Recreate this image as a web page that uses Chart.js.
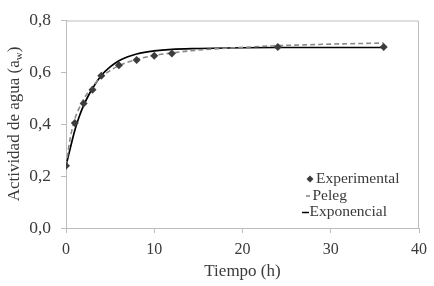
<!DOCTYPE html>
<html>
<head>
<meta charset="utf-8">
<script src="https://cdn.jsdelivr.net/npm/chart.js@4/dist/chart.umd.min.js"></script>
<style>
  html, body { margin: 0; padding: 0; background: #fff; }
  #wrap { width: 434px; height: 286px; }
</style>
</head>
<body>
<div id="wrap"><canvas id="chart" width="434" height="286"></canvas></div>
<script>
// Experimental points
var expTime = [0, 1, 2, 3, 4, 6, 8, 10, 12, 24, 36];
var expAw = [0.24, 0.405, 0.48, 0.533, 0.587, 0.627, 0.648, 0.664, 0.673, 0.698, 0.698];

// Peleg model curve
var pelegTime = [0, 0.5, 1, 1.5, 2, 3, 4, 5, 6, 8, 10, 12, 15, 18, 21, 24, 27, 30, 33, 36];
var pelegAw = [0.24, 0.35, 0.42, 0.463, 0.497, 0.545, 0.582, 0.607, 0.626, 0.65, 0.665, 0.675, 0.686, 0.693, 0.698, 0.703, 0.706, 0.709, 0.711, 0.713];

// Exponential model curve
var expoTime = [0, 0.5, 1, 1.5, 2, 2.5, 3, 4, 5, 6, 7, 8, 10, 12, 15, 20, 24, 30, 36];
var expoAw = [0.24, 0.31, 0.377, 0.43, 0.473, 0.508, 0.538, 0.588, 0.621, 0.645, 0.66, 0.671, 0.683, 0.689, 0.692, 0.695, 0.696, 0.696, 0.696];

var xTicks = [0, 10, 20, 30, 40];
var yTicks = [0, 0.2, 0.4, 0.6, 0.8];

var FONT = "'Liberation Serif', 'Times New Roman', serif";
var TEXT = '#3a3a3a';
var AXIS = '#bcbcbc';

function pts(xs, ys) {
    return xs.map(function(x, i) { return { x: x, y: ys[i] }; });
}

// frame, y title with subscript and the legend box
var extras = {
    id: 'extras',
    beforeDatasetsDraw: function(chart) {
        var a = chart.chartArea, ctx = chart.ctx;
        ctx.save();
        ctx.strokeStyle = AXIS;
        ctx.lineWidth = 1;
        ctx.beginPath();
        ctx.moveTo(a.left, a.top + 0.5);
        ctx.lineTo(a.right - 0.5, a.top + 0.5);
        ctx.lineTo(a.right - 0.5, a.bottom);
        ctx.stroke();
        ctx.restore();
    },
    afterDraw: function(chart) {
        var ctx = chart.ctx;
        ctx.save();
        // y axis title
        ctx.translate(15, 124);
        ctx.rotate(-Math.PI / 2);
        ctx.fillStyle = TEXT;
        ctx.textBaseline = 'middle';
        var main = 'Actividad de agua (a';
        ctx.font = '17px ' + FONT;
        var w1 = ctx.measureText(main).width;
        ctx.font = '11px ' + FONT;
        var w2 = ctx.measureText('w').width;
        ctx.font = '17px ' + FONT;
        var w3 = ctx.measureText(')').width;
        var x0 = -(w1 + w2 + w3) / 2;
        ctx.textAlign = 'left';
        ctx.fillText(main, x0, 0);
        ctx.font = '11px ' + FONT;
        ctx.fillText('w', x0 + w1, 4);
        ctx.font = '17px ' + FONT;
        ctx.fillText(')', x0 + w1 + w2, 0);
        ctx.restore();

        // legend
        ctx.save();
        ctx.font = '15.5px ' + FONT;
        ctx.textBaseline = 'middle';
        ctx.textAlign = 'left';
        // Experimental
        ctx.fillStyle = '#3c3c3c';
        ctx.beginPath();
        ctx.moveTo(310, 175.5); ctx.lineTo(313.5, 179); ctx.lineTo(310, 182.5); ctx.lineTo(306.5, 179);
        ctx.closePath(); ctx.fill();
        ctx.fillStyle = TEXT;
        ctx.fillText('Experimental', 316, 179);
        // Peleg
        ctx.strokeStyle = '#808080';
        ctx.lineWidth = 1.5;
        ctx.beginPath(); ctx.moveTo(306, 196); ctx.lineTo(310, 196); ctx.stroke();
        ctx.fillText('Peleg', 312.5, 196);
        // Exponencial
        ctx.strokeStyle = '#000';
        ctx.beginPath(); ctx.moveTo(302, 212.5); ctx.lineTo(309, 212.5); ctx.stroke();
        ctx.fillText('Exponencial', 309.5, 212);
        ctx.restore();
    }
};

var ctx = document.getElementById('chart').getContext('2d');
var chart = new Chart(ctx, {
    type: 'scatter',
    data: {
        datasets: [
            {
                label: 'Experimental',
                data: pts(expTime, expAw),
                pointStyle: 'rectRot',
                pointRadius: 4,
                backgroundColor: '#3c3c3c',
                borderColor: '#3c3c3c',
                borderWidth: 0,
                showLine: false,
                order: 0
            },
            {
                label: 'Peleg',
                type: 'line',
                data: pts(pelegTime, pelegAw),
                borderColor: '#8a8a8a',
                borderWidth: 1.6,
                borderDash: [5, 3],
                pointRadius: 0,
                cubicInterpolationMode: 'monotone',
                fill: false,
                order: 1
            },
            {
                label: 'Exponencial',
                type: 'line',
                data: pts(expoTime, expoAw),
                borderColor: '#000',
                borderWidth: 1.7,
                pointRadius: 0,
                cubicInterpolationMode: 'monotone',
                fill: false,
                order: 2
            }
        ]
    },
    options: {
        responsive: false,
        animation: false,
        layout: { padding: { top: 15, right: 13, left: 0, bottom: 0 } },
        plugins: {
            legend: { display: false },
            tooltip: { enabled: false }
        },
        scales: {
            x: {
                type: 'linear',
                min: 0,
                max: 40,
                afterBuildTicks: function(scale) {
                    scale.ticks = xTicks.map(function(v) { return { value: v }; });
                },
                afterFit: function(scale) { scale.height = 58; },
                ticks: {
                    color: TEXT,
                    font: { family: FONT, size: 16 },
                    padding: 7,
                    maxRotation: 0
                },
                grid: {
                    drawOnChartArea: false,
                    color: AXIS,
                    tickLength: 5,
                    tickColor: AXIS
                },
                border: { color: AXIS, width: 1 },
                title: {
                    display: true,
                    text: 'Tiempo (h)',
                    color: TEXT,
                    font: { family: FONT, size: 17 },
                    padding: { top: 0, bottom: 4 }
                }
            },
            y: {
                type: 'linear',
                min: 0,
                max: 0.8,
                afterBuildTicks: function(scale) {
                    scale.ticks = yTicks.map(function(v) { return { value: v }; });
                },
                afterFit: function(scale) { scale.width = 66; },
                ticks: {
                    color: TEXT,
                    font: { family: FONT, size: 17.5 },
                    padding: 10,
                    callback: function(v) { return v.toFixed(1).replace('.', ','); }
                },
                grid: {
                    drawOnChartArea: false,
                    color: AXIS,
                    tickLength: 5,
                    tickColor: AXIS
                },
                border: { color: AXIS, width: 1 }
            }
        }
    },
    plugins: [extras]
});
</script>
</body>
</html>
